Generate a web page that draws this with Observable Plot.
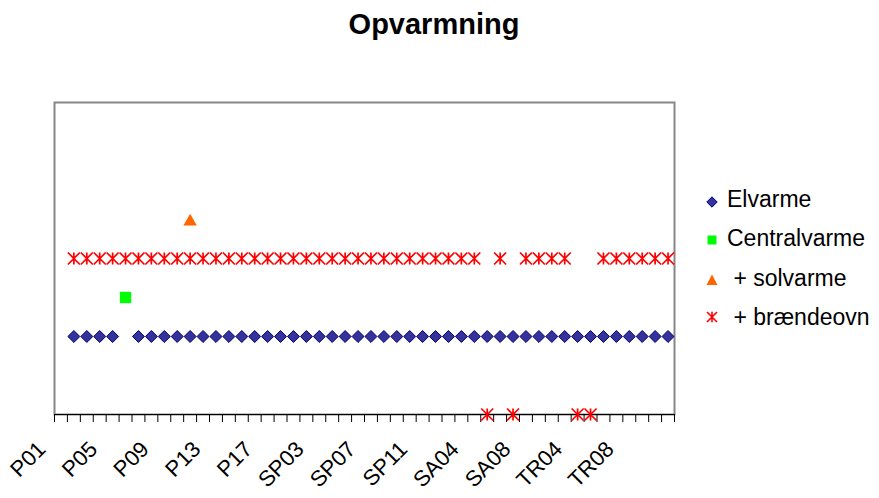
<!DOCTYPE html>
<html>
<head>
<meta charset="utf-8">
<script src="https://cdn.jsdelivr.net/npm/d3@7"></script>
<script src="https://cdn.jsdelivr.net/npm/@observablehq/plot@0.6"></script>
<style>
  html, body { margin: 0; padding: 0; background: #fff; }
  #wrap { position: relative; width: 879px; height: 498px; overflow: hidden; font-family: "Liberation Sans", Arial, sans-serif; }
  #chart { position: absolute; left: 0; top: 0; }
  #title { position: absolute; left: 0; width: 868px; top: 9.5px; text-align: center; font-weight: bold; font-size: 29px; line-height: 29px; color: #000; }
  .lt { position: absolute; left: 727px; font-size: 23px; line-height: 23px; color: #000; white-space: pre; }
  .ls { position: absolute; width: 16px; height: 16px; overflow: visible; }
</style>
</head>
<body>
<div id="wrap">
  <div id="chart"></div>
  <div id="title">Opvarmning</div>
  <div id="legend"></div>
</div>
<script>
// Categories (48)
const categories = [
  "P01","P02","P03","P04","P05","P06","P07","P08","P09","P10","P11","P12","P13","P14","P15","P16","P17","P18",
  "SP01","SP02","SP03","SP04","SP05","SP06","SP07","SP08","SP09","SP10","SP11",
  "SA01","SA02","SA03","SA04","SA05","SA06","SA07","SA08",
  "TR01","TR02","TR03","TR04","TR05","TR06","TR07","TR08","TR09","TR10","TR11"
];
// Tick labels shown on the axis
const tickLabels = ["P01","P05","P09","P13","P17","SP03","SP07","SP11","SA04","SA08","TR04","TR08"];

const seriesNames = ["Elvarme", "Centralvarme", " + solvarme", " + brændeovn"];

const elvarme = [
  null,2,2,2,2,null,2,2,2,2,2,2,2,2,2,2,2,2,
  2,2,2,2,2,2,2,2,2,2,2,
  2,2,2,2,2,2,2,2,
  2,2,2,2,2,2,2,2,2,2,2
];
const centralvarme = [
  null,null,null,null,null,3,null,null,null,null,null,null,null,null,null,null,null,null,
  null,null,null,null,null,null,null,null,null,null,null,
  null,null,null,null,null,null,null,null,
  null,null,null,null,null,null,null,null,null,null,null
];
const solvarme = [
  null,null,null,null,null,null,null,null,null,null,5,null,null,null,null,null,null,null,
  null,null,null,null,null,null,null,null,null,null,null,
  null,null,null,null,null,null,null,null,
  null,null,null,null,null,null,null,null,null,null,null
];
const braendeovn = [
  null,4,4,4,4,4,4,4,4,4,4,4,4,4,4,4,4,4,
  4,4,4,4,4,4,4,4,4,4,4,
  4,4,4,4,0,4,0,4,
  4,4,4,0,0,4,4,4,4,4,4
];

const colors = {
  elFill: "#333399", elStroke: "#000080",
  central: "#00FF00",
  sol: "#FF6600",
  star: "#FF0000"
};

// Excel-style star marker: vertical bar + X
const starSymbol = {
  draw(context, size) {
    const r = Math.sqrt(size / Math.PI);
    context.moveTo(0, -r); context.lineTo(0, r);
    context.moveTo(-r, -r); context.lineTo(r, r);
    context.moveTo(-r, r); context.lineTo(r, -r);
  }
};

const rows = (vals) => categories.map((c, i) => ({cat: c, pos: i + 0.5, v: vals[i]})).filter(d => d.v != null);

const boundaries = d3.range(categories.length + 1);
const labelPos = tickLabels.map(l => categories.indexOf(l) + 0.5);

const chart = Plot.plot({
  width: 879,
  height: 498,
  marginLeft: 54,
  marginRight: 205,
  marginTop: 102,
  marginBottom: 84,
  style: {background: "transparent", fontFamily: "'Liberation Sans', Arial, sans-serif", overflow: "visible"},
  x: {domain: [0, categories.length], axis: null},
  y: {domain: [0, 8], axis: null},
  marks: [
    Plot.frame({stroke: "#868686", strokeWidth: 2}),
    Plot.ruleY([0], {stroke: "#000", strokeWidth: 1}),
    Plot.axisX(boundaries, {anchor: "bottom", label: null, tickSize: 8, stroke: "#000", tickFormat: () => ""}),
    Plot.axisX(labelPos, {
      anchor: "bottom", label: null, tickSize: 0, tickPadding: 0, tickRotate: -45,
      tickFormat: d => categories[Math.floor(d)],
      fontSize: 22, fill: "#000", dx: -19, dy: 31
    }),
    Plot.dot(rows(elvarme), {x: "pos", y: "v", symbol: "diamond2", r: 5.4, fill: colors.elFill, stroke: colors.elStroke, strokeWidth: 1}),
    Plot.dot(rows(centralvarme), {x: "pos", y: "v", symbol: "square", r: 6.4, fill: colors.central, stroke: "none"}),
    Plot.dot(rows(solvarme), {x: "pos", y: "v", symbol: "triangle", r: 5, fill: colors.sol, stroke: "none", dy: 2}),
    Plot.dot(rows(braendeovn), {x: "pos", y: "v", symbol: starSymbol, r: 6, fill: "none", stroke: colors.star, strokeWidth: 1.7})
  ]
});
document.getElementById("chart").appendChild(chart);

// Legend
const legend = document.getElementById("legend");
const legendItems = [
  {name: seriesNames[0], top: 187.7, cy: 202, svg: '<path d="M8,2.8 L13.2,8 L8,13.2 L2.8,8 Z" fill="' + colors.elFill + '" stroke="' + colors.elStroke + '" stroke-width="1"/>'},
  {name: seriesNames[1], top: 227.2, cy: 240, svg: '<rect x="3.5" y="3.5" width="9" height="9" fill="' + colors.central + '"/>'},
  {name: seriesNames[2], top: 266.7, cy: 280, svg: '<path d="M8,2.5 L13.5,13 L2.5,13 Z" fill="' + colors.sol + '"/>'},
  {name: seriesNames[3], top: 305.7, cy: 316.7, svg: '<path d="M8,2.8 V13.2 M3,3 L13,13 M3,13 L13,3" fill="none" stroke="' + colors.star + '" stroke-width="1.6"/>'}
];
legendItems.forEach(it => {
  const s = document.createElementNS("http://www.w3.org/2000/svg", "svg");
  s.setAttribute("class", "ls");
  s.setAttribute("width", 16); s.setAttribute("height", 16);
  s.style.left = (711.7 - 8) + "px";
  s.style.top = (it.cy - 8) + "px";
  s.innerHTML = it.svg;
  legend.appendChild(s);
  const t = document.createElement("div");
  t.className = "lt";
  t.style.top = it.top + "px";
  t.textContent = it.name;
  legend.appendChild(t);
});
</script>
</body>
</html>
